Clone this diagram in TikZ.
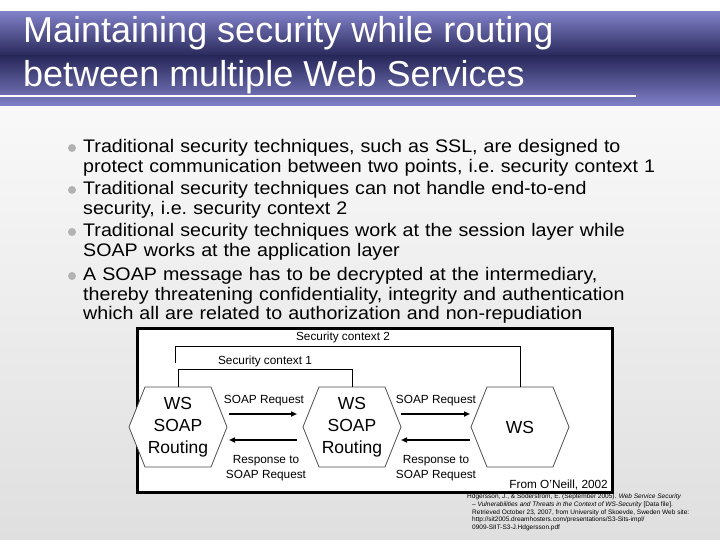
\documentclass[tikz,border=0pt]{standalone}
\usepackage{fontspec}
\setmainfont{Liberation Sans}
\newfontfamily\widefont[FakeStretch=1.08]{Liberation Sans}
\usetikzlibrary{arrows.meta}
\begin{document}
\begin{tikzpicture}[x=1pt,y=-1pt,
  bul/.style={anchor=north west,align=left,font=\widefont\fontsize{18.2}{19.8}\selectfont,text width=630pt,inner sep=0pt},
  dot/.style={circle,fill=gray!60,inner sep=0pt,minimum size=8pt},
  hex/.style={draw=black!70,line width=0.8pt,fill=white},
  lbl/.style={font=\fontsize{11.8}{14.5}\selectfont,inner sep=1pt},
  arr/.style={-{Triangle[length=6pt,width=5pt]},line width=1.5pt}]
\useasboundingbox (0,0) rectangle (720,540);
\shade[top color=white,bottom color=gray!25] (0,0) rectangle (720,540);
% title band
\shade[top color={rgb,255:red,128;green,128;blue,200},bottom color={rgb,255:red,40;green,40;blue,90}] (0,12) rectangle (720,56);
\shade[top color={rgb,255:red,40;green,40;blue,90},bottom color={rgb,255:red,128;green,128;blue,200}] (0,56) rectangle (720,106);
\draw[white,line width=1.5pt] (0,96) -- (636,96);
\node[anchor=west,text=white,font=\fontsize{36}{44}\selectfont,align=left,inner sep=0pt] (title) at (23,55) {Maintaining security while routing\\between multiple Web Services};
% bullets
\foreach \y in {148,190,232,276} \node[dot] at (72,\y) {};
\node[bul] (b1) at (83,139) {Traditional security techniques, such as SSL, are designed to\\protect communication between two points, i.e.\ security context 1};
\node[bul] (b2) at (83,181) {Traditional security techniques can not handle end-to-end\\security, i.e.\ security context 2};
\node[bul] (b3) at (83,223) {Traditional security techniques work at the session layer while\\SOAP works at the application layer};
\node[bul] (b4) at (83,267) {A SOAP message has to be decrypted at the intermediary,\\thereby threatening confidentiality, integrity and authentication\\which all are related to authorization and non-repudiation};
% diagram
\draw[line width=3pt,fill=white] (137,328) rectangle (612,492);
\foreach \c/\n in {178/h1,352/h2,520/h3}{
  \draw[hex] (\c-49,427) -- (\c-33,387) -- (\c+33,387) -- (\c+49,427) -- (\c+33,467) -- (\c-33,467) -- cycle;
  \coordinate (\n) at (\c,427);
  \coordinate (\n t) at (\c,387);
}
\node[font=\fontsize{17.5}{22}\selectfont,align=center] (t1) at (h1) {WS\\SOAP\\Routing};
\node[font=\fontsize{17.5}{22}\selectfont,align=center] (t2) at (h2) {WS\\SOAP\\Routing};
\node[font=\fontsize{17.5}{22}\selectfont] (t3) at (h3) {WS};
\coordinate (c2l) at (175,363);
\coordinate (c2a) at (175,346);
\coordinate (c2b) at (520,346);
\draw[line width=0.8pt] (c2l) -- (c2a) -- (c2b) -- (h3t);
\coordinate (c1a) at (178,369);
\coordinate (c1b) at (352,369);
\draw[line width=0.8pt] (h1t) -- (c1a) -- (c1b) -- (h2t);
\node[lbl] (sc2) at (343,337) {Security context 2};
\node[lbl] (sc1) at (265,361) {Security context 1};
\coordinate (a1s) at (229,414); \coordinate (a1e) at (297,414);
\coordinate (a2s) at (401,414); \coordinate (a2e) at (470,414);
\draw[arr] (a1s) -- (a1e);
\draw[arr] (a2s) -- (a2e);
\coordinate (r1s) at (297,440); \coordinate (r1e) at (229,440);
\coordinate (r2s) at (470,440); \coordinate (r2e) at (401,440);
\draw[arr] (r1s) -- (r1e);
\draw[arr] (r2s) -- (r2e);
\node[lbl] (q1) at (264,401) {SOAP Request};
\node[lbl] (q2) at (436,401) {SOAP Request};
\node[lbl,align=center] (p1) at (266,468) {Response to\\SOAP Request};
\node[lbl,align=center] (p2) at (436,468) {Response to\\SOAP Request};
\node[lbl,anchor=east] (src) at (609,485) {From O'Neill, 2002};
% citation
\node[anchor=north west,align=left,inner sep=0pt,font=\fontsize{6.5}{7.6}\selectfont] (cite) at (467,494) {Hdgersson, J., \& Söderström, E. (September 2005). \textit{Web Service Security}\\\hspace*{5pt}\textit{– Vulnerabilities and Threats in the Context of WS-Security} [Data file].\\\hspace*{5pt}Retrieved October 23, 2007, from University of Skoevde, Sweden Web site:\\\hspace*{5pt}http://sit2005.dreamhosters.com/presentations/S3-Sits-impl/\\\hspace*{5pt}0909-SIIT-S3-J.Hdgersson.pdf};
\end{tikzpicture}
\end{document}
